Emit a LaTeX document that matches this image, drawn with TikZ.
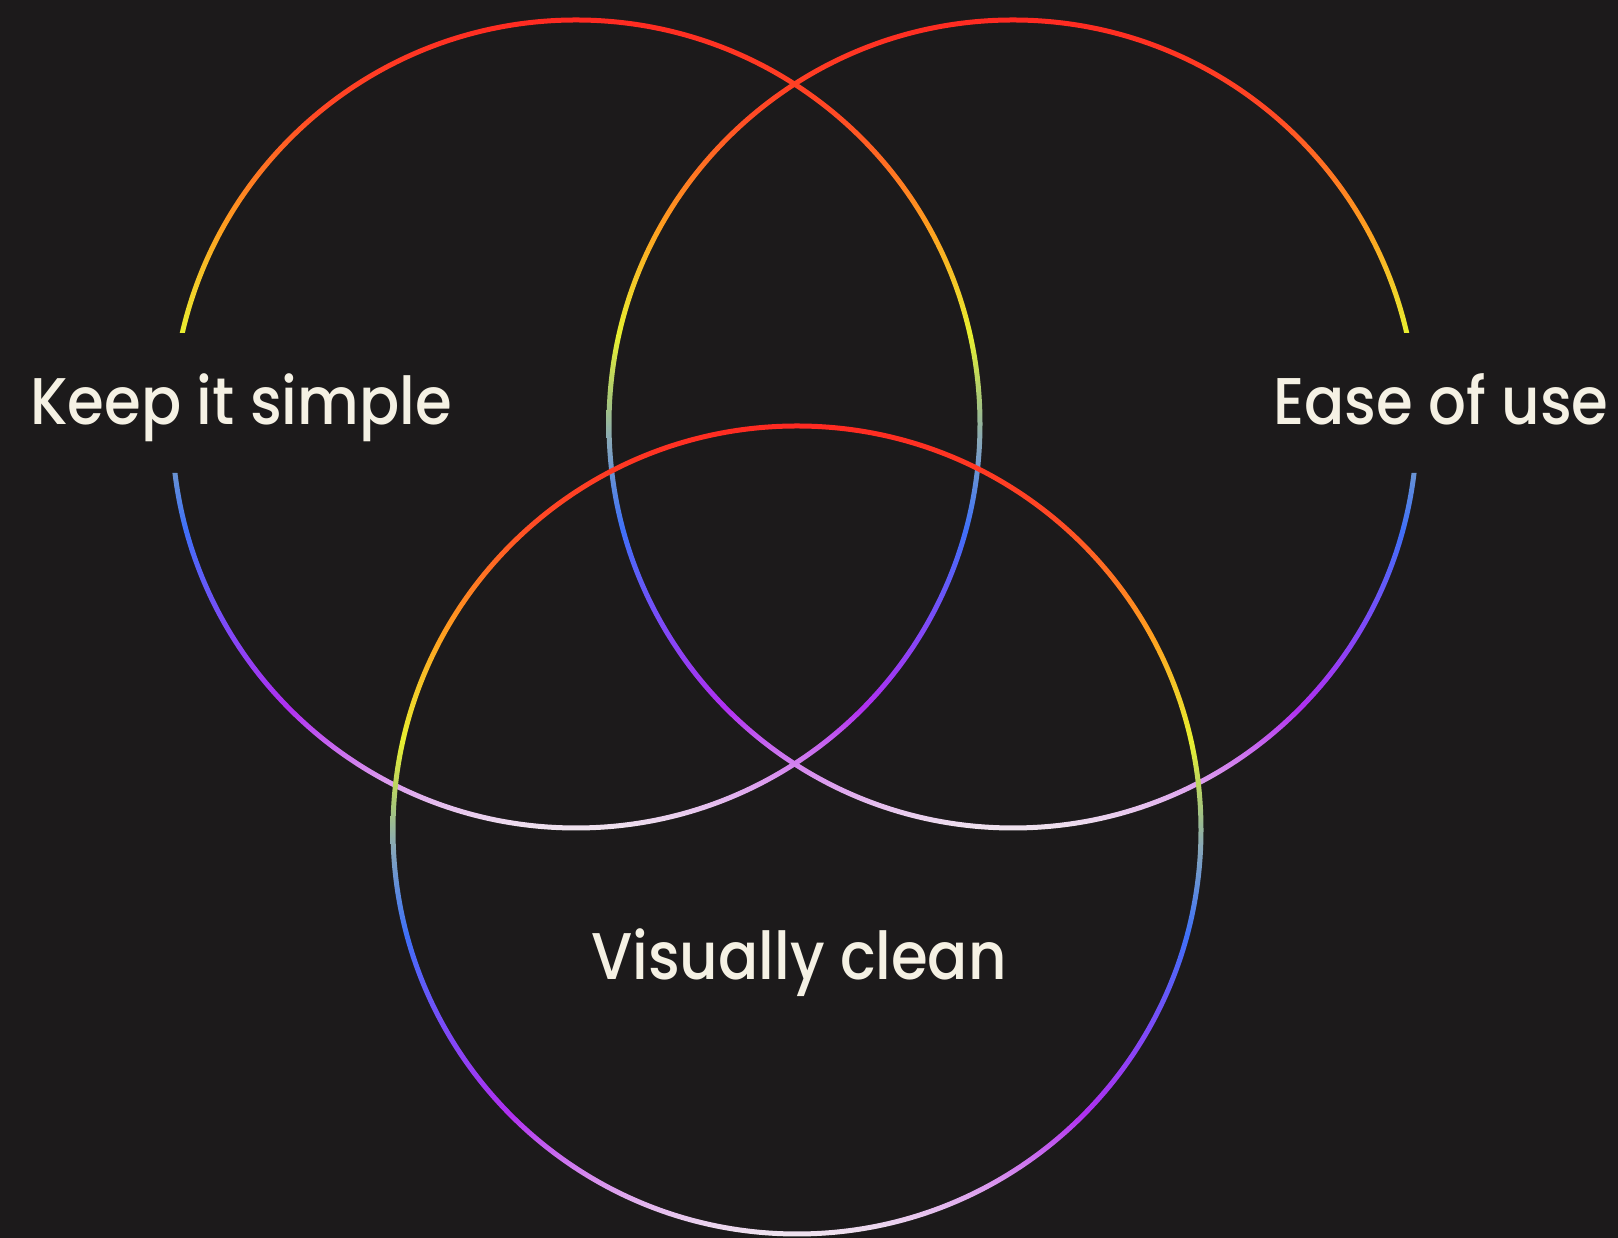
\documentclass[tikz,border=0pt]{standalone}
\usepackage{fontspec}
\setmainfont{Poppins Medium}[FakeStretch=0.9]

% palette
\definecolor{bgdark}{HTML}{1C1A1B}
\definecolor{labelcream}{HTML}{F5F1E4}
\definecolor{ga}{HTML}{FF2A22}
\definecolor{gb}{HTML}{FF4A25}
\definecolor{gc}{HTML}{FFA020}
\definecolor{gd}{HTML}{E8F030}
\definecolor{ge}{HTML}{A8C878}
\definecolor{gf}{HTML}{88A8B8}
\definecolor{gg}{HTML}{5A88E0}
\definecolor{gh}{HTML}{4070F8}
\definecolor{gi}{HTML}{7A4CF8}
\definecolor{gj}{HTML}{B030F0}
\definecolor{gk}{HTML}{D890EE}
\definecolor{gl}{HTML}{F0E6EE}

% rainbow running from the bottom (pale pink) to the top (red) of each ring
\pgfdeclareverticalshading{ringgrad}{100bp}{%
  color(0bp)=(gl); color(25bp)=(gl); color(28.5bp)=(gk); color(32.5bp)=(gj);
  color(38bp)=(gi); color(43.5bp)=(gh); color(46bp)=(gg); color(49bp)=(gf);
  color(51.5bp)=(ge); color(55.5bp)=(gd); color(62bp)=(gc); color(69bp)=(gb);
  color(75bp)=(ga); color(100bp)=(ga)}

\tikzset{
  ring/.style={shading=ringgrad, even odd rule},
  label/.style={text=labelcream, font=\fontsize{66}{70}\selectfont, inner sep=0pt}
}

\newcommand\ringR{404}
\newcommand\ringW{2.5}

\begin{document}
\begin{tikzpicture}[x=1pt,y=1pt]
  \fill[bgdark] (0,0) rectangle (1618,1238);
  \useasboundingbox (0,0) rectangle (1618,1238);

  \coordinate (cl) at (576,814);
  \coordinate (cr) at (1013,814);
  \coordinate (cb) at (797,408);

  % left ring, open where its label sits
  \begin{scope}[even odd rule]
    \clip (0,0) rectangle (1618,1238) (140,765) rectangle (215,905);
    \path[ring] (cl) circle[radius=\ringR+\ringW] (cl) circle[radius=\ringR-\ringW];
  \end{scope}

  % right ring, open where its label sits
  \begin{scope}[even odd rule]
    \clip (0,0) rectangle (1618,1238) (1385,765) rectangle (1450,905);
    \path[ring] (cr) circle[radius=\ringR+\ringW] (cr) circle[radius=\ringR-\ringW];
  \end{scope}

  % bottom ring
  \path[ring] (cb) circle[radius=\ringR+\ringW] (cb) circle[radius=\ringR-\ringW];

  \node[label, anchor=base] (simple) at (241,813) {Keep it simple};
  \node[label, anchor=base] (ease)   at (1441,813) {Ease of use};
  \node[label, anchor=base] (clean)  at (799,258) {Visually clean};
\end{tikzpicture}
\end{document}
